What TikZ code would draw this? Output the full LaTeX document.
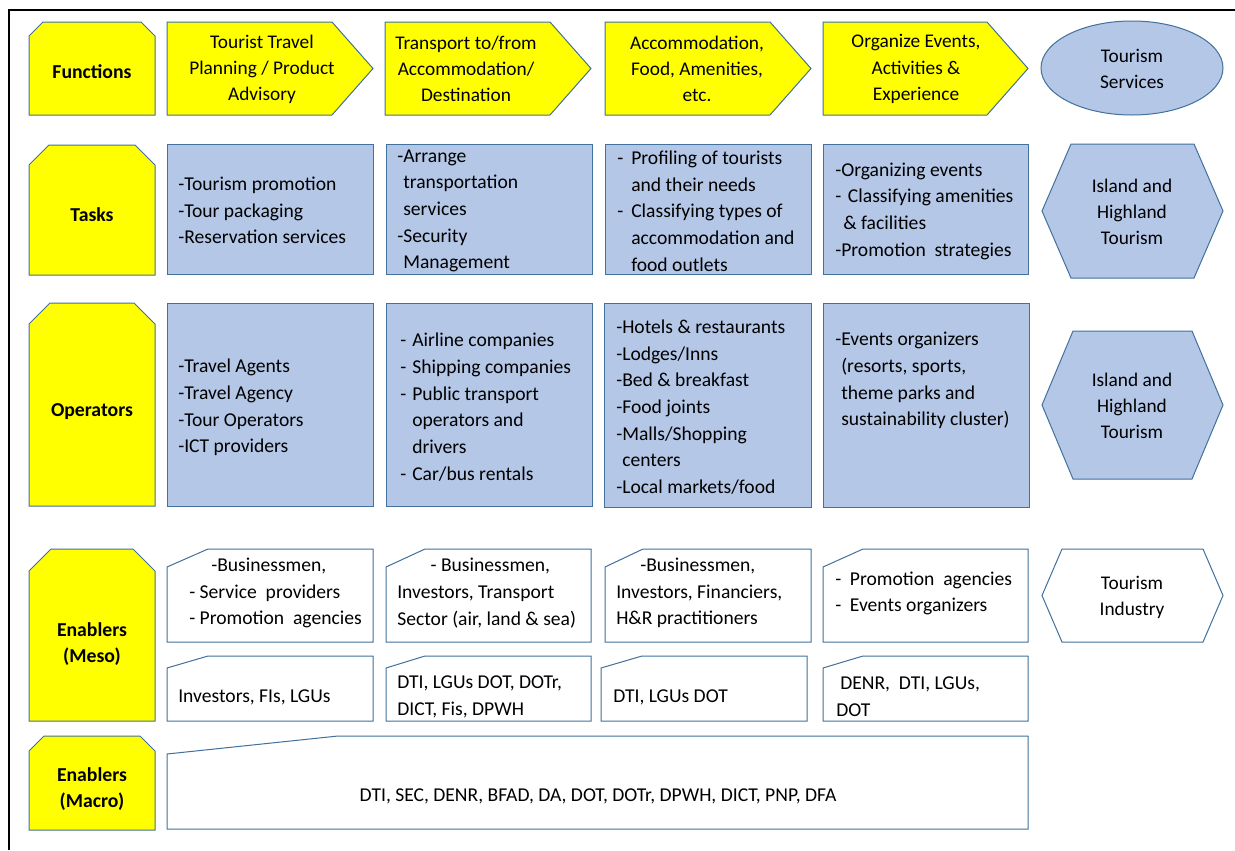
\documentclass[tikz,border=0pt]{standalone}
\usepackage{fontspec}
\setmainfont{Carlito}
\definecolor{lineblue}{HTML}{41719C}
\definecolor{cellblue}{HTML}{B4C7E7}
\definecolor{labelyellow}{HTML}{FFFF00}
% bullet dash in a box of given width, and matching indent for continuation lines
\newcommand\itm[1]{\makebox[#1][l]{-}}
\newcommand\ind[1]{\hspace*{#1}}
% row label: rectangle with both top corners snipped
\newcommand\snipshape[5]{%
  \path[yellowshape] (#1,#4) -- (#1,#2+#5) -- (#1+#5,#2) -- (#3-#5,#2) -- (#3,#2+#5) -- (#3,#4) -- cycle;}
% pentagon arrow pointing right
\newcommand\arrowshape[4]{%
  \path[yellowshape] (#1,#2) -- (#3-41,#2) -- (#3,{(#2+#4)/2}) -- (#3-41,#4) -- (#1,#4) -- cycle;}
% box with slanted top-left corner
\newcommand\slantshape[6]{%
  \path[whiteshape] (#1,#4) -- (#1,#2+#6) -- (#1+#5,#2) -- (#3,#2) -- (#3,#4) -- cycle;}
% horizontal hexagon
\newcommand\hexshape[6]{%
  \path[#6] (#1,{(#2+#4)/2}) -- (#1+#5,#2) -- (#3-#5,#2) -- (#3,{(#2+#4)/2}) -- (#3-#5,#4) -- (#1+#5,#4) -- cycle;}
\begin{document}
\begin{tikzpicture}[x=0.75pt,y=-0.75pt,
  shapeline/.style={draw=lineblue, line width=0.75pt},
  yellowshape/.style={shapeline, fill=labelyellow},
  blueshape/.style={shapeline, fill=cellblue},
  whiteshape/.style={shapeline, fill=white},
  body/.style={font=\fontsize{14.7}{20}\selectfont, inner sep=0pt, text=black},
  lefttext/.style={body, align=left, anchor=west},
  centertext/.style={body, align=center, font=\fontsize{14.5}{19.6}\selectfont},
  labeltext/.style={body, align=center, font=\fontsize{14.8}{19}\selectfont\bfseries}]
\useasboundingbox (0,0) rectangle (1235,850);
\fill[white] (0,0) rectangle (1235,850);
% frame
\draw[line width=1.4pt] (9,850) -- (9,10) -- (1235,10);

% ---------- Functions ----------
\snipshape{29}{22}{155}{115}{14}
\node[labeltext] (lblFunctions) at (92,72) {Functions};
\arrowshape{167}{22}{373}{115}
\node[centertext] (fPlanning) at (262,69) {Tourist Travel\\Planning / Product\\Advisory};
\arrowshape{385}{22}{591}{115}
\node[centertext] (fTransport) at (466,69) {Transport to/from\\Accommodation/\\Destination};
\arrowshape{605}{22}{811}{115}
\node[centertext] (fAccommodation) at (697,69) {Accommodation,\\Food, Amenities,\\etc.};
\arrowshape{823}{22}{1028}{115}
\node[centertext] (fEvents) at (916,69) {Organize Events,\\Activities \&\\Experience};
\path[blueshape] (1132,68) ellipse [x radius=68.25pt, y radius=35.25pt];
\node[centertext] (fServices) at (1132,69) {Tourism\\Services};

% ---------- Tasks ----------
\snipshape{29}{145}{155}{275}{20}
\node[labeltext] (lblTasks) at (92,215) {Tasks};
\path[blueshape] (167,144) rectangle (373,274);
\path[blueshape] (386,144) rectangle (592,274);
\path[blueshape] (605,144) rectangle (811,274);
\path[blueshape] (823,144) rectangle (1028,274);
\node[lefttext] (tPlanning) at (178,210.5) {-Tourism promotion\\-Tour packaging\\-Reservation services};
\node[lefttext] (tTransport) at (397,211) {-Arrange\\\phantom{-}transportation\\\phantom{-}services\\-Security\\\phantom{-}Management};
\node[lefttext] (tAccommodation) at (617,211) {\itm{10.5pt}Profiling of tourists\\\ind{10.5pt}and their needs\\\itm{10.5pt}Classifying types of\\\ind{10.5pt}accommodation and\\\ind{10.5pt}food outlets};
\node[lefttext] (tEvents) at (835,211) {-Organizing events\\\itm{9.5pt}Classifying amenities\\\ind{6pt}\& facilities\\-Promotion\ \ strategies};
\hexshape{1042}{144}{1223}{278}{29}{blueshape}
\node[centertext] (tIsland) at (1132,212) {Island and\\Highland\\Tourism};

% ---------- Operators ----------
\snipshape{29}{303}{155}{506}{21}
\node[labeltext] (lblOperators) at (92,412) {Operators};
\path[blueshape] (167,303) rectangle (373,506);
\path[blueshape] (386,303) rectangle (592,506);
\path[blueshape] (604,303) rectangle (811,507);
\path[blueshape] (823,303) rectangle (1029,507);
\node[lefttext] (oPlanning) at (178,407.5) {-Travel Agents\\-Travel Agency\\-Tour Operators\\-ICT providers};
\node[lefttext] (oTransport) at (400,407) {\itm{9pt}Airline companies\\\itm{9pt}Shipping companies\\\itm{9pt}Public transport\\\ind{9pt}operators and\\\ind{9pt}drivers\\\itm{9pt}Car/bus rentals};
\node[lefttext] (oAccommodation) at (616,407) {-Hotels \& restaurants\\-Lodges/Inns\\-Bed \& breakfast\\-Food joints\\-Malls/Shopping\\\phantom{-}centers\\-Local markets/food};
\node[lefttext] (oEvents) at (835,380.5) {-Events organizers\\\phantom{-}(resorts, sports,\\\phantom{-}theme parks and\\\phantom{-}sustainability cluster)};
\hexshape{1042}{331}{1223}{479}{31}{blueshape}
\node[centertext] (oIsland) at (1132,406) {Island and\\Highland\\Tourism};

% ---------- Enablers (Meso) ----------
\snipshape{29}{549}{155}{721}{22}
\node[labeltext] (lblMeso) at (92,644) {Enablers\\(Meso)};
\slantshape{167}{549}{373}{642}{41}{18}
\slantshape{386}{549}{591}{642}{39}{18}
\slantshape{605}{549}{811}{642}{38}{18}
\slantshape{823}{549}{1028}{642}{40}{18}
\node[lefttext] (mPlanning) at (189,593) {\ind{16.5pt}-Businessmen,\\- Service\ \ providers\\- Promotion\ \ agencies};
\node[lefttext] (mTransport) at (397,593) {\ind{25pt}- Businessmen,\\Investors, Transport\\Sector (air, land \& sea)};
\node[lefttext] (mAccommodation) at (616,593) {\ind{18pt}-Businessmen,\\Investors, Financiers,\\H\&R practitioners};
\node[lefttext] (mEvents) at (835,593.5) {\itm{11pt}Promotion\ \ agencies\\\itm{11pt}Events organizers};
\hexshape{1042}{549}{1223}{642}{20}{whiteshape}
\node[centertext] (mIndustry) at (1132,597) {Tourism\\Industry};
\slantshape{167}{656}{373}{721}{41}{12}
\slantshape{386}{656}{591}{721}{39}{12}
\slantshape{601}{656}{807}{721}{41}{12}
\slantshape{823}{656}{1028}{721}{40}{12}
\node[lefttext] (gPlanning) at (178,697) {Investors, FIs, LGUs};
\node[lefttext] (gTransport) at (397,697) {DTI, LGUs DOT, DOTr,\\DICT, Fis, DPWH};
\node[lefttext] (gAccommodation) at (613,697) {DTI, LGUs DOT};
\node[lefttext] (gEvents) at (836,697) {\ind{3pt}DENR,\ \ DTI, LGUs,\\DOT};

% ---------- Enablers (Macro) ----------
\snipshape{29}{736}{155}{830}{15}
\node[labeltext] (lblMacro) at (92,789) {Enablers\\(Macro)};
\slantshape{167}{736}{1028}{829}{171}{18}
\node[centertext, font=\fontsize{14.7}{20}\selectfont] (macroList) at (598,796) {DTI, SEC, DENR, BFAD, DA, DOT, DOTr, DPWH, DICT, PNP, DFA};
\end{tikzpicture}
\end{document}
